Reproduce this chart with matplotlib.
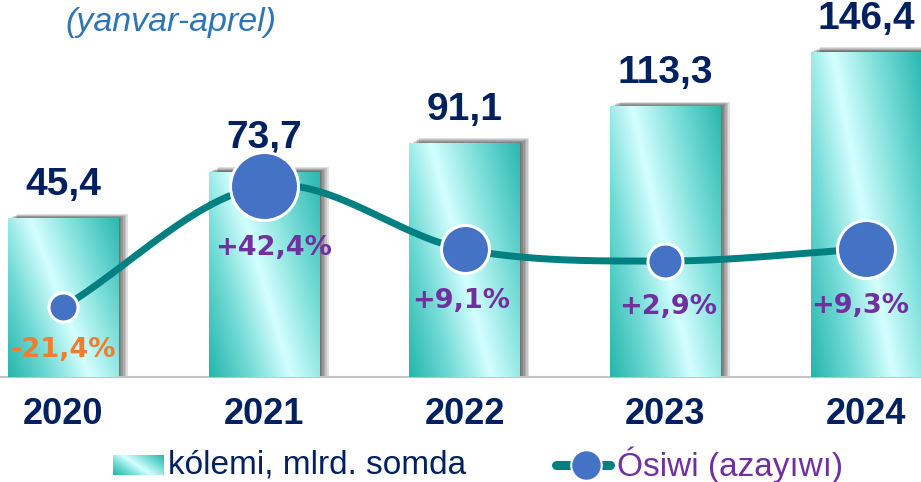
import numpy as np
import matplotlib.pyplot as plt
from matplotlib.colors import LinearSegmentedColormap
from matplotlib.patches import Rectangle
from matplotlib.lines import Line2D

# data
years = ['2020', '2021', '2022', '2023', '2024']
volume = [45.4, 73.7, 91.1, 113.3, 146.4]
volume_labels = ['45,4', '73,7', '91,1', '113,3', '146,4']
growth = [-21.4, 42.4, 9.1, 2.9, 9.3]
growth_labels = ['-21,4%', '+42,4%', '+9,1%', '+2,9%', '+9,3%']

# styles
growth_colors = ['#ED7D31', '#7030A0', '#7030A0', '#7030A0', '#7030A0']
marker_px = [29, 68, 48, 35, 58]
label_dx = [0, 10, -3, 3, -6]
navy = '#002060'
teal_line = '#008080'
dot = '#4472C4'

W, H = 921, 482
fig = plt.figure(figsize=(W / 100, H / 100), dpi=100)
ax = fig.add_axes([0, 0, 1, 1])
base = -50.5
bw = 0.55
x = np.arange(len(years))

cmap = LinearSegmentedColormap.from_list(
    'bar', [(0, '#26B5AD'), (0.25, '#74DBD6'), (0.48, '#D4FFFF'),
            (0.72, '#80E0DB'), (1, '#2BB8B0')])


def gradient(nx=80, ny=200):
    u = np.linspace(0, 1, nx)[None, :]
    v = np.linspace(1, 0, ny)[:, None]
    return (u + 0.55 * v) / 1.55


for xi, val in zip(x, volume):
    x0 = xi - bw / 2
    # soft shadow
    for k in range(1, 7):
        ax.add_patch(Rectangle((x0 + k * 0.008, base), bw, val - base + k * 0.5,
                               color='black', alpha=0.12, lw=0, zorder=1))
    ax.imshow(gradient(), cmap=cmap, vmin=0, vmax=1, aspect='auto',
              extent=[x0, x0 + bw, base, val], zorder=2, interpolation='bilinear')
    ax.annotate(volume_labels[xi], (xi, val), xytext=(0, 17), textcoords='offset points',
                ha='center', va='baseline', fontsize=28, fontweight='bold',
                color=navy, family='Liberation Sans', zorder=5)

ax.axhline(base, color='#C4C4C4', lw=1.5, zorder=1.5)
ax.set_xlim(-0.314, 4.274)
ax.set_ylim(-114.1, 178.0)
ax.axis('off')

for xi, yr in zip(x, years):
    ax.text(xi, 1 - 414 / H, yr, transform=ax.get_xaxis_transform(), ha='center',
            va='center', fontsize=26, fontweight='bold', color=navy,
            family='Liberation Sans')

# growth line on second scale
ax2 = ax.twinx()
ax2.set_ylim(-113.4, 140.3)
ax2.set_xlim(ax.get_xlim())
ax2.axis('off')

P = np.column_stack([x, growth]).astype(float)
P = np.vstack([2 * P[0] - P[1], P, 2 * P[-1] - P[-2]])
t = np.linspace(0, 1, 60)[:, None]
curve = []
for i in range(1, len(P) - 2):
    p0, p1, p2, p3 = P[i - 1], P[i], P[i + 1], P[i + 2]
    seg = 0.5 * (2 * p1 + (-p0 + p2) * t + (2 * p0 - 5 * p1 + 4 * p2 - p3) * t ** 2
                 + (-p0 + 3 * p1 - 3 * p2 + p3) * t ** 3)
    curve.append(seg)
curve = np.vstack(curve)
ax2.plot(curve[:, 0], curve[:, 1], color=teal_line, lw=5, zorder=3,
         solid_capstyle='round')

for xi, g, d, lbl, c, dx in zip(x, growth, marker_px, growth_labels, growth_colors, label_dx):
    ax2.plot(xi, g, 'o', ms=d * 0.72, mfc=dot, mec='white', mew=2.2, zorder=4)
    ax2.annotate(lbl, (xi, g), xytext=(dx * 0.72, -(d / 2 + 28) * 0.72),
                 textcoords='offset points', ha='center', va='center',
                 fontsize=19.5, fontweight='bold', color=c, family='DejaVu Sans',
                 zorder=5)

# title
fig.text(65 / W, 1 - 22 / H, '(yanvar-aprel)', ha='left', va='center', fontsize=24.5,
         style='italic', color='#2E75B6', family='Liberation Sans')

# legend
ly = 1 - 465 / H
lax = fig.add_axes([113 / W, 1 - 475 / H, 50 / W, 20 / H])
lax.imshow(gradient(40, 20), cmap=cmap, vmin=0, vmax=1, aspect='auto',
           interpolation='bilinear')
lax.axis('off')
fig.text(168 / W, ly, 'kólemi, mlrd. somda', ha='left', va='center', fontsize=24,
         color=navy, family='Liberation Sans')
fig.add_artist(Line2D([556 / W, 610 / W], [ly, ly], transform=fig.transFigure,
                      color=teal_line, lw=6.5, solid_capstyle='round'))
fig.add_artist(Line2D([586 / W], [ly], transform=fig.transFigure, marker='o',
                      ms=22, mfc=dot, mec='white', mew=1.5))
fig.text(617 / W, ly, 'Ósiwi (azayıwı)', ha='left', va='center', fontsize=24,
         color='#7030A0', family='Liberation Sans')

fig.savefig('out.png', dpi=100)
